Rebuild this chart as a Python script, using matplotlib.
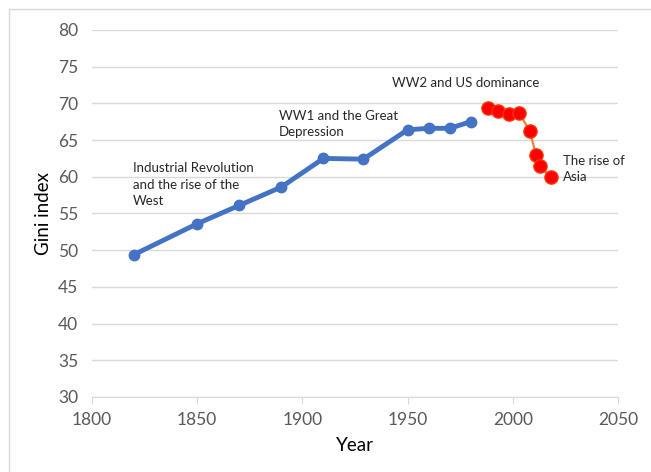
import numpy as np
import matplotlib
matplotlib.use("Agg")
from matplotlib import pyplot as plt
from matplotlib.patches import Rectangle

# historical series (blue)
years_hist = [1820, 1850, 1870, 1890, 1910, 1929, 1950, 1960, 1970, 1980]
gini_hist = [49.4, 53.6, 56.1, 58.6, 62.5, 62.4, 66.4, 66.6, 66.6, 67.5]

# recent series (red)
years_recent = [1988, 1993, 1998, 2003, 2008, 2011, 2013, 2018]
gini_recent = [69.4, 69.0, 68.5, 68.7, 66.3, 63.0, 61.5, 59.9]

notes = ["Industrial Revolution\nand the rise of the\nWest",
         "WW1 and the Great\nDepression",
         "WW2 and US dominance",
         "The rise of\nAsia"]
note_xy = [(1819.5, 62.0), (1889, 69.1), (1942.5, 73.6), (2024, 63.0)]

plt.rcParams['font.family'] = ['Lato', 'DejaVu Sans']

fig = plt.figure(figsize=(6.51, 4.72), dpi=100)
ax = fig.add_axes([0.1413, 0.159, 0.808, 0.7775])

# chart border
fig.patches.append(Rectangle((0.014, -0.01), 1.2, 0.99, transform=fig.transFigure,
                             fill=False, edgecolor='#d9d9d9', linewidth=1))

ax.plot(years_hist, gini_hist, color='#4472c4', linewidth=3.5, marker='o',
        markersize=7.5, zorder=3)
ax.plot(years_recent, gini_recent, color='#ed7d31', linewidth=1.5, marker='o',
        markersize=9.5, markerfacecolor='#ff0000', markeredgecolor='#ff3300',
        markeredgewidth=1, zorder=3)

for txt, (x, y) in zip(notes, note_xy):
    ax.text(x, y, txt, fontsize=9.5, color='#262626', va='top', ha='left',
            linespacing=1.45)

ax.set_xlim(1800, 2050)
ax.set_ylim(30, 80)
ax.set_xticks(np.arange(1800, 2051, 50))
ax.set_yticks(np.arange(30, 81, 5))
ax.grid(axis='y', color='#d9d9d9', linewidth=1)
ax.set_axisbelow(True)
for s in ['top', 'right', 'left']:
    ax.spines[s].set_visible(False)
ax.spines['bottom'].set_color('#d9d9d9')
ax.spines['bottom'].set_zorder(1)
ax.tick_params(axis='y', length=0, pad=10, labelsize=12.5, labelcolor='#595959')
ax.tick_params(axis='x', length=5, color='#d9d9d9', pad=6, labelsize=12.5,
               labelcolor='#595959')
ax.set_xlabel('Year', fontsize=13.5, labelpad=6)
ax.set_ylabel('Gini index', fontsize=13.5, labelpad=4)

fig.savefig('out.png', dpi=100)
